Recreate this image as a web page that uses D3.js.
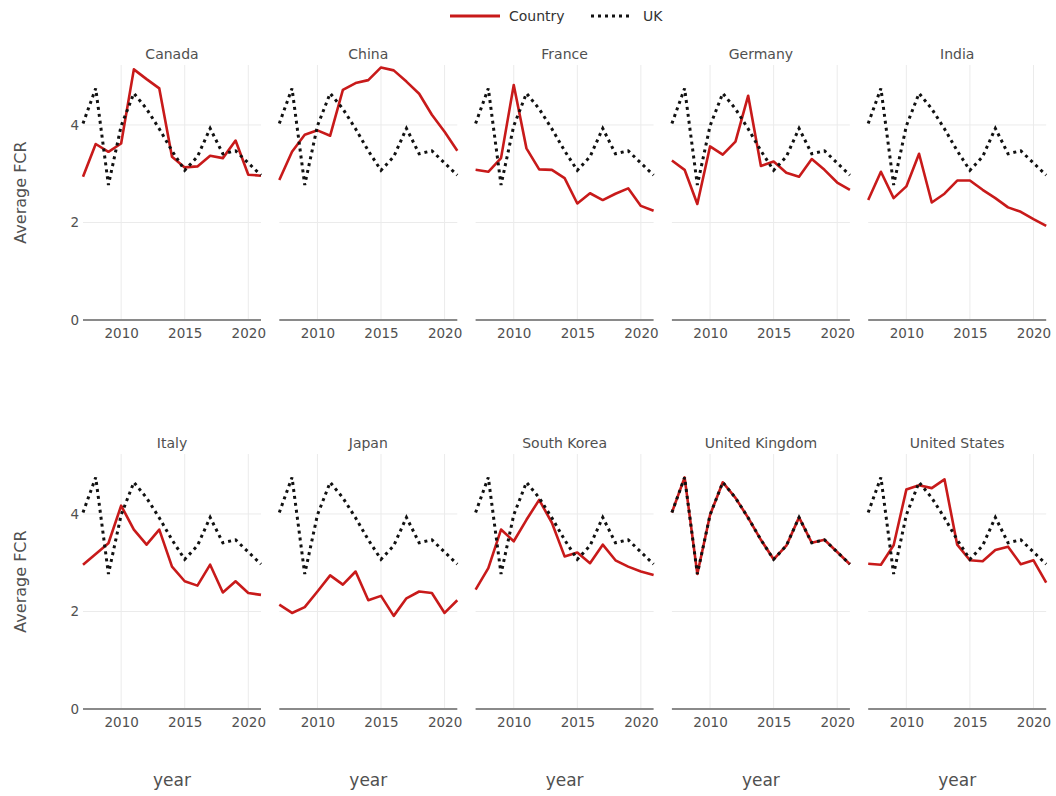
<!DOCTYPE html>
<html>
<head>
<meta charset="utf-8">
<script src="https://cdn.jsdelivr.net/npm/d3@7"></script>
<style>
  body { margin: 0; background: #fff; }
  text { font-family: "DejaVu Sans", Verdana, sans-serif; }
</style>
</head>
<body>
<svg id="chart" width="1056" height="796"></svg>
<script>
// Average FCR per year, each country against the UK reference series
const years = [2007, 2008, 2009, 2010, 2011, 2012, 2013, 2014, 2015, 2016, 2017, 2018, 2019, 2020, 2021];
const countries = ["Canada", "China", "France", "Germany", "India",
                   "Italy", "Japan", "South Korea", "United Kingdom", "United States"];

const ukValues      = [4.03, 4.75, 2.77, 3.98, 4.65, 4.33, 3.92, 3.47, 3.07, 3.35, 3.93, 3.41, 3.47, 3.22, 2.97];
const canada        = [2.94, 3.61, 3.45, 3.62, 5.14, 4.94, 4.75, 3.35, 3.13, 3.15, 3.37, 3.32, 3.68, 2.98, 2.96];
const china         = [2.87, 3.45, 3.80, 3.89, 3.78, 4.72, 4.86, 4.92, 5.18, 5.12, 4.89, 4.64, 4.21, 3.86, 3.47];
const france        = [3.08, 3.04, 3.32, 4.82, 3.52, 3.09, 3.08, 2.91, 2.39, 2.60, 2.46, 2.59, 2.70, 2.34, 2.24];
const germany       = [3.27, 3.08, 2.38, 3.56, 3.39, 3.66, 4.60, 3.16, 3.25, 3.02, 2.94, 3.30, 3.08, 2.82, 2.67];
const india         = [2.46, 3.04, 2.50, 2.74, 3.41, 2.41, 2.59, 2.86, 2.86, 2.67, 2.50, 2.31, 2.22, 2.07, 1.93];
const italy         = [2.96, 3.18, 3.40, 4.17, 3.68, 3.37, 3.68, 2.92, 2.62, 2.53, 2.96, 2.39, 2.62, 2.38, 2.34];
const japan         = [2.14, 1.97, 2.09, 2.41, 2.74, 2.55, 2.82, 2.23, 2.32, 1.91, 2.27, 2.41, 2.38, 1.97, 2.23];
const southKorea    = [2.45, 2.89, 3.68, 3.44, 3.88, 4.29, 3.82, 3.13, 3.21, 2.99, 3.37, 3.05, 2.92, 2.82, 2.75];
const unitedKingdom = [4.03, 4.75, 2.77, 3.98, 4.65, 4.33, 3.92, 3.47, 3.07, 3.35, 3.93, 3.41, 3.47, 3.22, 2.97];
const unitedStates  = [2.98, 2.96, 3.36, 4.50, 4.59, 4.53, 4.71, 3.37, 3.05, 3.03, 3.26, 3.33, 2.97, 3.05, 2.59];

const yTicks = [0, 2, 4];
const xTicks = [2010, 2015, 2020];

const countrySeries = [canada, china, france, germany, india,
                       italy, japan, southKorea, unitedKingdom, unitedStates];

// layout
const cols = 5;
const panelW = 178;
const colStep = 196.3;
const left0 = 83;
const rowTops = [65, 454];
const panelH = 255;

const red = "#c81a1a";
const textCol = "#505050";
const fontStack = '"DejaVu Sans", Verdana, sans-serif';

const svg = d3.select("#chart");

const x = d3.scaleLinear().domain([2007, 2021]).range([0, panelW]);
const y = d3.scaleLinear().domain([0, 5.23]).range([panelH, 0]);

const line = d3.line()
  .x((d, i) => x(years[i]))
  .y(d => y(d));

// legend
const legend = svg.append("g").attr("transform", "translate(0,16)");
legend.append("line").attr("x1", 450).attr("x2", 500).attr("y1", 0).attr("y2", 0)
  .attr("stroke", red).attr("stroke-width", 3);
legend.append("text").attr("x", 509).attr("y", 5).attr("font-size", 14)
  .attr("fill", "#333").text("Country");
legend.append("line").attr("x1", 591).attr("x2", 633).attr("y1", 0).attr("y2", 0)
  .attr("stroke", "#111").attr("stroke-width", 3).attr("stroke-dasharray", "3,4");
legend.append("text").attr("x", 643).attr("y", 5).attr("font-size", 14)
  .attr("fill", "#333").text("UK");

countries.forEach((name, k) => {
  const col = k % cols;
  const row = Math.floor(k / cols);
  const g = svg.append("g")
    .attr("transform", `translate(${left0 + col * colStep},${rowTops[row]})`);

  // grid
  g.append("g").selectAll("line").data(xTicks).join("line")
    .attr("x1", d => x(d)).attr("x2", d => x(d))
    .attr("y1", 0).attr("y2", panelH)
    .attr("stroke", "#ebebeb").attr("stroke-width", 1);
  g.append("g").selectAll("line").data(yTicks.filter(t => t > 0)).join("line")
    .attr("x1", 0).attr("x2", panelW)
    .attr("y1", d => y(d)).attr("y2", d => y(d))
    .attr("stroke", "#ebebeb").attr("stroke-width", 1);

  // zero line
  g.append("line").attr("x1", 0).attr("x2", panelW)
    .attr("y1", y(0)).attr("y2", y(0))
    .attr("stroke", "#8a8a8a").attr("stroke-width", 2);

  // x axis
  const xAxis = g.append("g").attr("transform", `translate(0,${panelH})`)
    .call(d3.axisBottom(x).tickValues(xTicks).tickFormat(d3.format("d")).tickSize(0).tickPadding(8));
  xAxis.select(".domain").remove();
  xAxis.selectAll("text").attr("font-size", 13.5).attr("fill", textCol)
    .style("font-family", fontStack);

  // y axis on first column
  if (col === 0) {
    const yAxis = g.append("g")
      .call(d3.axisLeft(y).tickValues(yTicks).tickFormat(d3.format("d")).tickSize(0).tickPadding(4));
    yAxis.select(".domain").remove();
    yAxis.selectAll("text").attr("font-size", 13.5).attr("fill", textCol)
      .style("font-family", fontStack);
  }

  // panel title
  g.append("text").attr("x", panelW / 2).attr("y", -6)
    .attr("text-anchor", "middle").attr("font-size", 14).attr("fill", textCol)
    .text(name);

  // country line, then UK reference on top
  g.append("path").datum(countrySeries[k]).attr("d", line)
    .attr("fill", "none").attr("stroke", red).attr("stroke-width", 2.6)
    .attr("stroke-linejoin", "round");
  g.append("path").datum(ukValues).attr("d", line)
    .attr("fill", "none").attr("stroke", "#111").attr("stroke-width", 3)
    .attr("stroke-dasharray", "3,4");

  // x title on the bottom row
  if (row === 1) {
    g.append("text").attr("x", panelW / 2).attr("y", panelH + 77)
      .attr("text-anchor", "middle").attr("font-size", 17).attr("fill", textCol)
      .text("year");
  }
  // y title on the first column
  if (col === 0) {
    g.append("text")
      .attr("transform", `translate(${-57},${panelH / 2}) rotate(-90)`)
      .attr("text-anchor", "middle").attr("font-size", 16).attr("fill", textCol)
      .text("Average FCR");
  }
});
</script>
</body>
</html>
